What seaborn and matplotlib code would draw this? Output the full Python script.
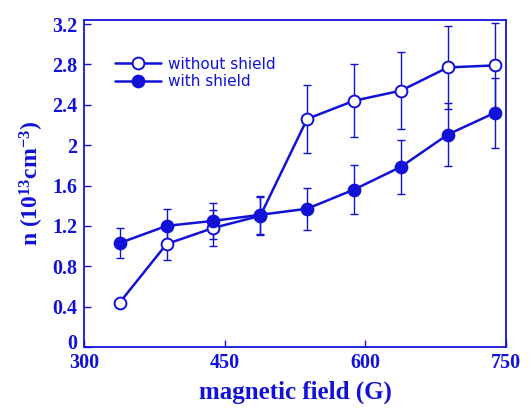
import matplotlib
matplotlib.use("Agg")
import matplotlib.pyplot as plt
import matplotlib.transforms as mtransforms
import seaborn as sns
import pandas as pd
import numpy as np

field = [338, 388, 438, 488, 538, 588, 638, 688, 738]
without_shield = [0.44, 1.02, 1.18, 1.30, 2.26, 2.44, 2.54, 2.77, 2.79]
without_err = [0.03, 0.16, 0.18, 0.19, 0.34, 0.36, 0.38, 0.41, 0.42]
with_shield = [1.03, 1.20, 1.25, 1.31, 1.37, 1.56, 1.785, 2.105, 2.32]
with_err = [0.15, 0.17, 0.18, 0.19, 0.21, 0.24, 0.27, 0.31, 0.35]
xticks = [300, 450, 600, 750]
yticks = [0, 0.4, 0.8, 1.2, 1.6, 2, 2.4, 2.8, 3.2]
ytick_labels = ["0", "0.4", "0.8", "1.2", "1.6", "2", "2.4", "2.8", "3.2"]

blue = "#1212d6"

sns.set_theme(style="white")
plt.rcParams["font.family"] = ["DejaVu Sans"]
plt.rcParams["mathtext.fontset"] = "custom"
plt.rcParams["mathtext.rm"] = "Liberation Serif:bold"
plt.rcParams["mathtext.bf"] = "Liberation Serif:bold"
plt.rcParams["mathtext.it"] = "Liberation Serif:bold"

df = pd.DataFrame({
    "field": field * 2,
    "n": without_shield + with_shield,
    "series": ["without shield"] * len(field) + ["with shield"] * len(field),
})

fig = plt.figure(figsize=(5.32, 4.08), dpi=100)
ax = fig.add_axes([0.158, 0.1495, 0.793, 0.8015])

ax.errorbar(field, without_shield, yerr=without_err, fmt="none", ecolor=blue,
            elinewidth=1.0, capsize=3, capthick=1.0, zorder=2)
ax.errorbar(field, with_shield, yerr=with_err, fmt="none", ecolor=blue,
            elinewidth=1.0, capsize=3, capthick=1.0, zorder=2)

sns.lineplot(data=df[df.series == "without shield"], x="field", y="n", ax=ax,
             color=blue, lw=1.8, marker="o", markersize=8.5, markerfacecolor="white",
             markeredgecolor=blue, markeredgewidth=1.4, label="without shield", zorder=3)
sns.lineplot(data=df[df.series == "with shield"], x="field", y="n", ax=ax,
             color=blue, lw=1.8, marker="o", markersize=8.5, markerfacecolor=blue,
             markeredgecolor=blue, markeredgewidth=1.4, label="with shield", zorder=4)

ax.set_xlim(300, 750)
ax.set_ylim(0, 3.24)
ax.set_xticks(xticks)
ax.set_yticks(yticks)
ax.set_yticklabels(ytick_labels)

for lab in ax.get_xticklabels() + ax.get_yticklabels():
    lab.set_fontfamily("Liberation Serif")
    lab.set_fontweight("bold")
    lab.set_fontsize(14.5)
    lab.set_color(blue)

ax.tick_params(axis="both", direction="in", length=5, width=1, color=blue,
               bottom=True, left=True, top=False, right=False)
ax.tick_params(axis="x", pad=4)
ax.tick_params(axis="y", pad=5)
for s in ax.spines.values():
    s.set_color(blue)
    s.set_linewidth(1.3)

ax.set_xlabel("magnetic field (G)", fontfamily="Liberation Serif", fontweight="bold",
              fontsize=18, color=blue, labelpad=6)
ax.set_ylabel(r"n (10$^{13}$cm$^{-3}$)", fontfamily="Liberation Serif",
              fontweight="bold", fontsize=17, color=blue, labelpad=4)

leg = ax.legend(loc="upper left", bbox_to_anchor=(0.04, 0.93), frameon=False,
                handlelength=3.0, handletextpad=0.5, labelspacing=0.15,
                prop={"family": "DejaVu Sans", "size": 11})
for t in leg.get_texts():
    t.set_color(blue)

# nudge the "0" label up slightly as in the reference
zero_lab = ax.get_yticklabels()[0]
zero_lab.set_transform(zero_lab.get_transform() +
                       mtransforms.ScaledTranslation(0, 4 / 72, fig.dpi_scale_trans))

fig.savefig("out.png", dpi=100)
